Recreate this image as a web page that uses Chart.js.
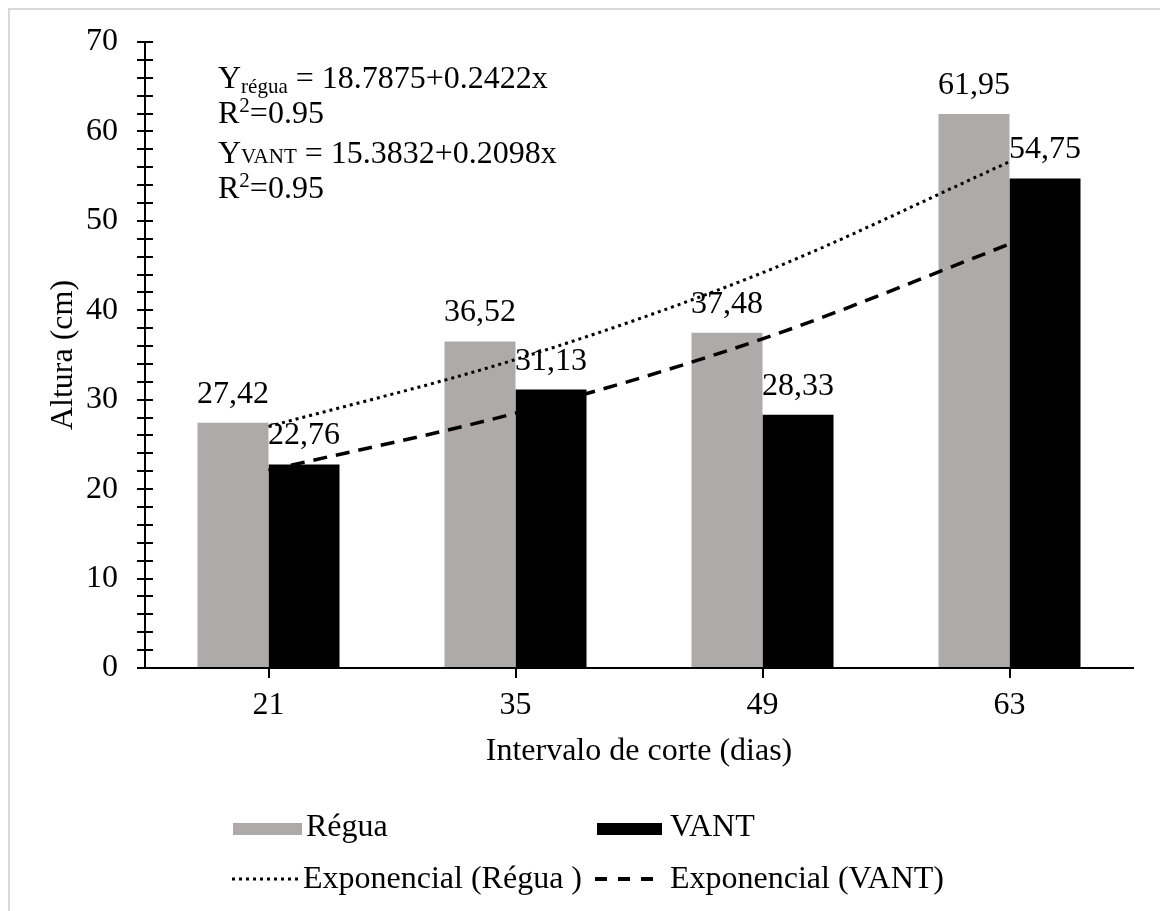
<!DOCTYPE html>
<html>
<head>
<meta charset="utf-8">
<script src="https://cdn.jsdelivr.net/npm/chart.js@4"></script>
<style>
  html, body { margin: 0; padding: 0; background: #fff; }
  canvas { display: block; }
</style>
</head>
<body>
<canvas id="alturaChart" width="1160" height="911"></canvas>
<script>
const dias = ["21", "35", "49", "63"];
const regua = [27.42, 36.52, 37.48, 61.95];
const vant = [22.76, 31.13, 28.33, 54.75];
// trend curves at each cut interval
const expRegua = [27.0, 34.5, 44.2, 56.6];
const expVant = [22.1, 28.5, 36.8, 47.4];
const yTicks = [0, 10, 20, 30, 40, 50, 60, 70];

const FONT = '"Liberation Serif", "Times New Roman", serif';
const GRAY = "#AEAAAA";

Chart.defaults.font.family = FONT;
Chart.defaults.font.size = 32;
Chart.defaults.color = "#000";

const fmt = v => v.toFixed(2).replace(".", ",");

const decor = {
  id: "decor",
  beforeDraw: c => {
    const ctx = c.ctx;
    ctx.save();
    ctx.fillStyle = "#fff";
    ctx.fillRect(0, 0, c.width, c.height);
    ctx.strokeStyle = "#d9d9d9";
    ctx.lineWidth = 2;
    ctx.beginPath();
    ctx.moveTo(9, c.height);
    ctx.lineTo(9, 9);
    ctx.lineTo(c.width, 9);
    ctx.stroke();
    ctx.restore();
  },
  afterDatasetsDraw: c => {
    const ctx = c.ctx;
    ctx.save();
    ctx.font = "32px " + FONT;
    ctx.fillStyle = "#000";
    ctx.textAlign = "center";
    ctx.textBaseline = "alphabetic";
    [0, 1].forEach(i => {
      c.getDatasetMeta(i).data.forEach((bar, j) => {
        ctx.fillText(fmt(c.data.datasets[i].data[j]), bar.x, bar.y - 20);
      });
    });
    ctx.restore();
  },
  afterDraw: c => {
    const ctx = c.ctx;
    const y = c.scales.y, x = c.scales.x;
    ctx.save();
    // inner half of the y ticks and the axis stub
    ctx.strokeStyle = "#000";
    ctx.lineWidth = 2;
    ctx.beginPath();
    for (let v = 0; v <= 70; v += 2) {
      const py = Math.round(y.getPixelForValue(v));
      ctx.moveTo(x.left, py);
      ctx.lineTo(x.left + 8, py);
    }
    const by = y.getPixelForValue(0);
    ctx.moveTo(x.left - 8, by);
    ctx.lineTo(x.left, by);
    ctx.stroke();

    // equations
    const big = "32px " + FONT, small = "21px " + FONT;
    const run = (parts, x0, base) => {
      let px = x0;
      parts.forEach(([t, f, dy]) => {
        ctx.font = f;
        ctx.fillText(t, px, base + dy);
        px += ctx.measureText(t).width;
      });
    };
    ctx.fillStyle = "#000";
    ctx.textAlign = "left";
    ctx.textBaseline = "alphabetic";
    run([["Y", big, 0], ["régua", small, 5], [" = 18.7875+0.2422x", big, 0]], 218, 88);
    run([["R", big, 0], ["2", small, -11], ["=0.95", big, 0]], 218, 123);
    run([["Y", big, 0], ["VANT", small, 0], [" = 15.3832+0.2098x", big, 0]], 218, 163);
    run([["R", big, 0], ["2", small, -11], ["=0.95", big, 0]], 218, 198);

    // legend
    const ds = c.data.datasets;
    ctx.font = big;
    ctx.textBaseline = "middle";
    ctx.fillStyle = ds[0].backgroundColor;
    ctx.fillRect(233, 823, 69, 12);
    ctx.fillStyle = ds[1].backgroundColor;
    ctx.fillRect(597, 823, 65, 12);
    ctx.fillStyle = "#000";
    ctx.fillText(ds[0].label, 306, 828);
    ctx.fillText(ds[1].label, 670, 828);
    ctx.lineWidth = 3;
    ctx.setLineDash([3, 4]);
    ctx.beginPath();
    ctx.moveTo(232, 879);
    ctx.lineTo(301, 879);
    ctx.stroke();
    ctx.lineWidth = 4;
    ctx.setLineDash([12, 11]);
    ctx.beginPath();
    ctx.moveTo(595, 879);
    ctx.lineTo(656, 879);
    ctx.stroke();
    ctx.setLineDash([]);
    ctx.fillText(ds[2].label, 303, 880);
    ctx.fillText(ds[3].label, 670, 880);
    ctx.restore();
  }
};

new Chart(document.getElementById("alturaChart"), {
  type: "bar",
  data: {
    labels: dias,
    datasets: [
      {
        label: "Régua",
        backgroundColor: GRAY,
        data: regua,
        order: 2,
        categoryPercentage: 0.575,
        barPercentage: 1
      },
      {
        label: "VANT",
        backgroundColor: "#000000",
        data: vant,
        order: 2,
        categoryPercentage: 0.575,
        barPercentage: 1
      },
      {
        type: "line",
        label: "Exponencial (Régua )",
        data: expRegua,
        borderColor: "#000",
        borderWidth: 3,
        borderDash: [3, 4],
        pointRadius: 0,
        cubicInterpolationMode: "monotone",
        order: 0
      },
      {
        type: "line",
        label: "Exponencial (VANT)",
        data: expVant,
        borderColor: "#000",
        borderWidth: 3.5,
        borderDash: [14, 9],
        pointRadius: 0,
        cubicInterpolationMode: "monotone",
        order: 0
      }
    ]
  },
  options: {
    responsive: false,
    devicePixelRatio: 1,
    animation: false,
    layout: { padding: { top: 42, right: 27, bottom: 140, left: 44 } },
    plugins: {
      legend: { display: false },
      tooltip: { enabled: false }
    },
    scales: {
      x: {
        afterFit: s => { s.height = 103; },
        grid: { drawOnChartArea: false, offset: false, color: "#000", lineWidth: 2, tickLength: 10 },
        border: { color: "#000", width: 2 },
        ticks: { padding: 8 },
        title: { display: true, text: "Intervalo de corte (dias)", padding: 0 }
      },
      y: {
        min: 0,
        max: 70,
        afterFit: s => { s.width = 101; },
        grid: { drawOnChartArea: false, color: "#000", lineWidth: 2, tickLength: 8 },
        border: { color: "#000", width: 2 },
        ticks: {
          stepSize: 2,
          autoSkip: false,
          padding: 19,
          callback: v => (yTicks.includes(v) ? v : "")
        },
        title: { display: true, text: "Altura (cm)", padding: 0 }
      }
    }
  },
  plugins: [decor]
});
</script>
</body>
</html>
